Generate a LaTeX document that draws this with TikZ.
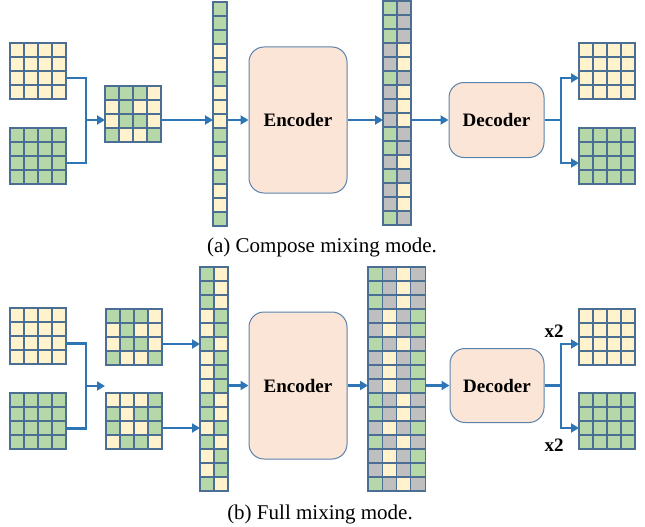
\documentclass[tikz,border=0pt]{standalone}
\usepackage{fontspec}
\setmainfont{Liberation Serif}
\usetikzlibrary{arrows.meta}

\definecolor{cY}{HTML}{FFF2CC}
\definecolor{cG}{HTML}{B6D7A8}
\definecolor{cS}{HTML}{BFBFBF}
\definecolor{cellline}{HTML}{4A6E94}
\definecolor{flowblue}{HTML}{2E75B6}
\definecolor{coderfill}{HTML}{FBE5D6}
\definecolor{coderline}{HTML}{5A83AC}

% name, x, y, columns, rows, cell width, colours (row by row)
\newcommand\cellblock[7]{%
  \foreach \cl [count=\n from 0] in {#7}{%
    \pgfmathtruncatemacro\cc{mod(\n,#4)}%
    \pgfmathtruncatemacro\rr{div(\n,#4)}%
    \fill[c\cl] ({#2+\cc*#6},{#3+\rr*14}) rectangle ++(#6,14);
  }%
  \foreach \cl [count=\n from 0] in {#7}{%
    \pgfmathtruncatemacro\cc{mod(\n,#4)}%
    \pgfmathtruncatemacro\rr{div(\n,#4)}%
    \draw[cell] ({#2+\cc*#6},{#3+\rr*14}) rectangle ++(#6,14);
  }%
  \node[block,minimum width={#4*#6pt},minimum height={#5*14pt}] (#1) at (#2,#3) {};}

\begin{document}
\begin{tikzpicture}
[x=1pt,y=-1pt,
 cell/.style={draw=cellline,line width=1.1pt},
 block/.style={anchor=north west,inner sep=0pt,outer sep=0pt},
 coder/.style={draw=coderline,fill=coderfill,line width=1pt,rounded corners=15pt,
   inner sep=0pt,font=\fontsize{19}{22}\selectfont\bfseries},
 link/.style={draw=flowblue,line width=2.8pt},
 flow/.style={link,-{Triangle[length=8pt,width=9pt]}},
 caption/.style={font=\fontsize{21}{25}\selectfont},
 times/.style={font=\fontsize{19}{22}\selectfont\bfseries}]
\useasboundingbox (0,0) rectangle (645,527);

% (a) compose mixing
\cellblock{inY1}{10}{43}{4}{4}{14}{Y,Y,Y,Y,Y,Y,Y,Y,Y,Y,Y,Y,Y,Y,Y,Y}
\cellblock{inG1}{10}{128}{4}{4}{14}{G,G,G,G,G,G,G,G,G,G,G,G,G,G,G,G}
\cellblock{mixA1}{105}{86}{4}{4}{14}{G,G,G,Y,Y,G,Y,Y,Y,G,G,Y,G,Y,Y,G}
\cellblock{colA1}{213}{2}{1}{16}{14}{G,G,G,Y,Y,G,Y,Y,Y,G,G,Y,G,Y,Y,G}
\cellblock{colA2}{383}{1}{2}{16}{14}{G,S,G,S,G,S,S,Y,S,Y,G,S,S,Y,S,Y,S,Y,G,S,G,S,S,Y,G,S,S,Y,S,Y,G,S}
\cellblock{outY1}{579}{43}{4}{4}{14}{Y,Y,Y,Y,Y,Y,Y,Y,Y,Y,Y,Y,Y,Y,Y,Y}
\cellblock{outG1}{579}{128}{4}{4}{14}{G,G,G,G,G,G,G,G,G,G,G,G,G,G,G,G}
\node[coder,minimum width=98pt,minimum height=146pt] (enc1) at (298,120) {Encoder};
\node[coder,minimum width=95pt,minimum height=75pt] (dec1) at (496.5,120) {Decoder};
\coordinate (jA) at (86,120);
\coordinate (jD) at (561,120);

\draw[link] ([yshift=-7pt]inY1.east) -| (jA);
\draw[link] ([yshift=-7pt]inG1.east) -| (jA);
\draw[flow] (jA) -- (jA -| mixA1.west);
\draw[flow] (mixA1.east |- jA) -- (colA1.west |- jA);
\draw[flow] (colA1.east |- enc1) -- (enc1.west);
\draw[flow] (enc1.east) -- (colA2.west |- enc1);
\draw[flow] (colA2.east |- dec1) -- (dec1.west);
\draw[link] (dec1.east) -- (jD);
\draw[flow] (jD) |- ([yshift=-7pt]outY1.west);
\draw[flow] (jD) |- ([yshift=-7pt]outG1.west);

\node[caption] (capA) at (322,247) {(a) Compose mixing mode.};

% (b) full mixing
\cellblock{inY2}{10}{308}{4}{4}{14}{Y,Y,Y,Y,Y,Y,Y,Y,Y,Y,Y,Y,Y,Y,Y,Y}
\cellblock{inG2}{10}{393}{4}{4}{14}{G,G,G,G,G,G,G,G,G,G,G,G,G,G,G,G}
\cellblock{mixA2}{106}{309}{4}{4}{14}{G,G,G,Y,Y,G,Y,Y,Y,G,G,Y,G,Y,Y,G}
\cellblock{mixB2}{106}{393}{4}{4}{14}{Y,Y,Y,G,G,Y,G,G,G,Y,Y,G,Y,G,G,Y}
\cellblock{colB1}{200}{267}{2}{16}{14}{G,Y,G,Y,G,Y,Y,G,Y,G,G,Y,Y,G,Y,G,Y,G,G,Y,G,Y,Y,G,G,Y,Y,G,Y,G,G,Y}
\cellblock{colB2}{368}{267}{4}{16}{14.3}{G,S,Y,S,G,S,Y,S,G,S,Y,S,S,Y,S,G,S,Y,S,G,G,S,Y,S,S,Y,S,G,S,Y,S,G,S,Y,S,G,G,S,Y,S,G,S,Y,S,S,Y,S,G,G,S,Y,S,S,Y,S,G,S,Y,S,G,G,S,Y,S}
\cellblock{outY2}{579}{309}{4}{4}{14}{Y,Y,Y,Y,Y,Y,Y,Y,Y,Y,Y,Y,Y,Y,Y,Y}
\cellblock{outG2}{579}{393}{4}{4}{14}{G,G,G,G,G,G,G,G,G,G,G,G,G,G,G,G}
\node[coder,minimum width=98pt,minimum height=147pt] (enc2) at (298,385.5) {Encoder};
\node[coder,minimum width=94pt,minimum height=74pt] (dec2) at (497,385.5) {Decoder};
\coordinate (jB) at (86,386);
\coordinate (jBend) at (105,386);
\coordinate (jE) at (561,385.5);

\draw[link] ([yshift=-7.5pt]inY2.east) -| (jB);
\draw[link] ([yshift=-7.5pt]inG2.east) -| (jB);
\draw[flow] (jB) -- (jBend);
\draw[flow] ([yshift=-7pt]mixA2.east) -- ([yshift=-7pt]mixA2.east -| colB1.west);
\draw[flow] ([yshift=-7pt]mixB2.east) -- ([yshift=-7pt]mixB2.east -| colB1.west);
\draw[flow] (colB1.east |- enc2) -- (enc2.west);
\draw[flow] (enc2.east) -- (colB2.west |- enc2);
\draw[flow] (colB2.east |- dec2) -- (dec2.west);
\draw[link] (dec2.east) -- (jE);
\draw[flow] (jE) |- ([yshift=-7pt]outY2.west);
\draw[flow] (jE) |- ([yshift=-7pt]outG2.west);

\node[times] (rep1) at (554,331) {x2};
\node[times] (rep2) at (554,445) {x2};
\node[caption] (capB) at (320,514) {(b) Full mixing mode.};
\end{tikzpicture}
\end{document}
